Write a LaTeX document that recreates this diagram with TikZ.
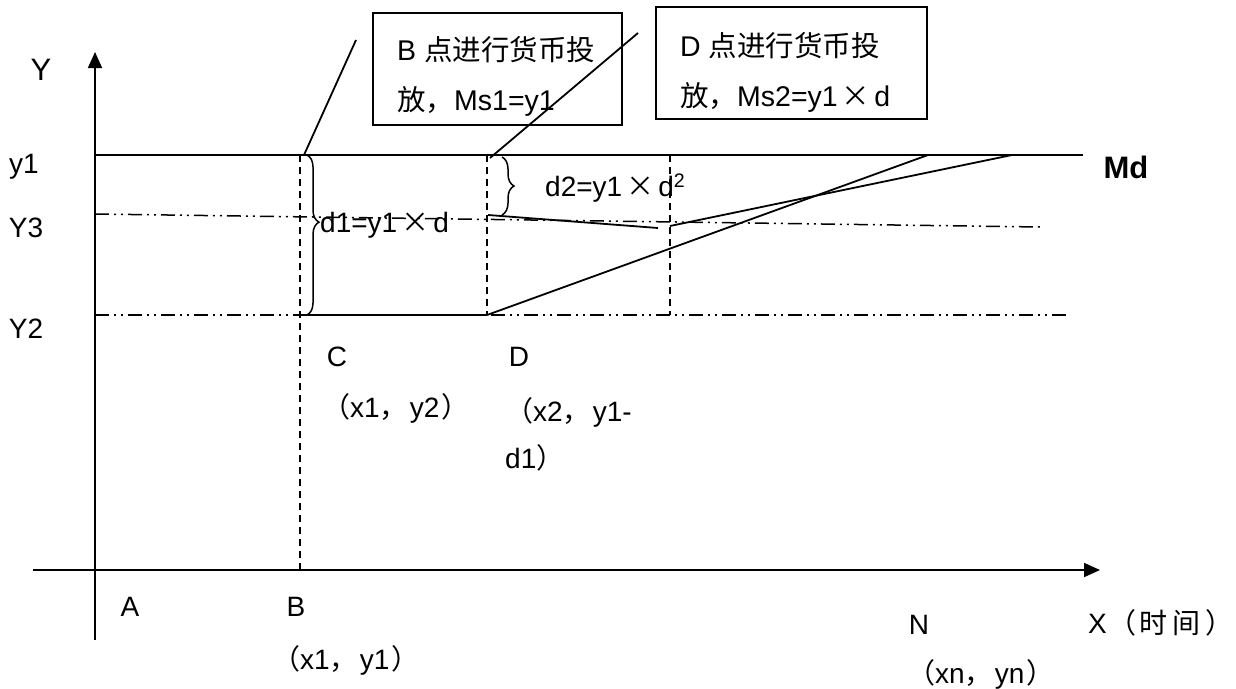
\documentclass[tikz,border=0pt]{standalone}
\usepackage{fontspec}
\setmainfont{Liberation Sans}
\newfontfamily\cjk{Noto Sans CJK SC}
\usetikzlibrary{arrows.meta,decorations.pathreplacing}
\newcommand{\cj}[1]{{\cjk #1}}
\newcommand{\tms}{\hspace{4pt}\cj{×}\hspace{4pt}}
\newcommand{\cmm}{\cj{，}\hspace{2pt}}
\begin{document}
\begin{tikzpicture}[x=1pt,y=-1pt,
 ln/.style={line width=1.8pt},
 dd/.style={line width=1.5pt, dash pattern=on 14pt off 5pt on 2pt off 5pt on 2pt off 5pt},
 vd/.style={line width=1.5pt, dash pattern=on 7pt off 5pt},
 lbl/.style={inner sep=0pt, font=\fontsize{28}{28}\selectfont},
 big/.style={inner sep=0pt, font=\fontsize{31}{31}\selectfont},
 boxtext/.style={inner sep=0pt, align=left, font=\fontsize{28.5}{50}\selectfont},
 box/.style={draw, line width=1.8pt, inner sep=0pt},
 axis/.style={line width=1.8pt, -{Triangle[length=16pt,width=14pt]}},
 brc/.style={line width=1.5pt, decorate, decoration={brace, amplitude=12pt}}
]
\useasboundingbox (0,0) rectangle (1236,688);
% key points
\coordinate (ybot) at (95,640);
\coordinate (ytop) at (95,52);
\coordinate (xl) at (33,570);
\coordinate (xr) at (1100,570);
\coordinate (y1L) at (95,155);
\coordinate (y1R) at (1083,155);
\coordinate (y3L) at (95,214);
\coordinate (y3R) at (1040,227);
\coordinate (y2L) at (95,315);
\coordinate (y2R) at (1070,315);
\coordinate (Btop) at (300,155);
\coordinate (Bbot) at (300,570);
\coordinate (C) at (300,315);
\coordinate (Dtop) at (487,155);
\coordinate (D) at (487,315);
\coordinate (Etop) at (670,155);
\coordinate (Ebot) at (670,315);
\coordinate (N1) at (928,155);
\coordinate (N2) at (1012,155);
\coordinate (s1) at (488,215);
\coordinate (s2) at (658,228);
\coordinate (s3) at (670,226);
\coordinate (cB) at (304,155);
\coordinate (cBend) at (356,40);
\coordinate (cD) at (490,158);
\coordinate (cDend) at (638,33);
\coordinate (br1a) at (307,155);
\coordinate (br1b) at (307,315);
\coordinate (br2a) at (502,157);
\coordinate (br2b) at (502,215);

% axes
\draw[axis] (ybot) -- (ytop);
\draw[axis] (xl) -- (xr);

% horizontal lines
\draw[ln] (y1L) -- (y1R);
\draw[dd] (y3L) -- (y3R);
\draw[dd] (y2L) -- (y2R);
\draw[ln] (C) -- (D);

% vertical dashed
\draw[vd] (Btop) -- (Bbot);
\draw[vd] (Dtop) -- (D);
\draw[vd] (Etop) -- (Ebot);

% sloped lines
\draw[ln] (D) -- (N1);
\draw[ln] (s1) -- (s2);
\draw[ln] (s3) -- (N2);

% braces
\draw[brc, decoration={aspect=0.42}] (br1a) -- (br1b);
\draw[brc] (br2a) -- (br2b);

% callout boxes
\node[box, minimum width=249pt, minimum height=112pt] (boxB) at (497.5,69) {};
\node[box, minimum width=271pt, minimum height=112pt] (boxD) at (791.5,63) {};
\node[boxtext, anchor=west] (tB) at (397,76) {B \cj{点进行货币投}\\\cj{放，}Ms1=y1};
\node[boxtext, anchor=west] (tD) at (680,72) {D \cj{点进行货币投}\\\cj{放，}Ms2=y1\tms d};
\draw[ln] (cB) -- (cBend);
\draw[ln] (cD) -- (cDend);

% axis labels
\node[big] (lY) at (41,70) {Y};
\node[lbl] (ly1) at (24,167) {y1};
\node[lbl] (lY3) at (26,228) {Y3};
\node[lbl] (lY2) at (26,329) {Y2};
\node[big, font=\fontsize{31}{31}\selectfont\bfseries] (lMd) at (1126,167) {Md};

% brace labels
\node[lbl, anchor=west] (ld1) at (320,225) {d1=y1\tms d};
\node[lbl, anchor=west] (ld2) at (545,188) {d2=y1\tms d\textsuperscript{2}};

% point labels
\node[lbl] (lC) at (337,357) {C};
\node[lbl, anchor=west] (lCc) at (322,408) {\cj{（}x1\cmm y2\hspace{2pt}\cj{）}};
\node[lbl] (lD) at (519,357) {D};
\node[lbl, anchor=north west, align=left, font=\fontsize{28}{47}\selectfont] (lDc) at (505,397) {\cj{（}x2\cmm y1-\\d1\cj{）}};
\node[lbl] (lA) at (130,607) {A};
\node[lbl] (lB) at (296,607) {B};
\node[lbl, anchor=west] (lBc) at (272,660) {\cj{（}x1\cmm y1\hspace{2pt}\cj{）}};
\node[lbl] (lN) at (919,625) {N};
\node[lbl, anchor=west] (lNc) at (907,674) {\cj{（}xn\cmm yn\hspace{2pt}\cj{）}};
\node[lbl, anchor=west] (lX) at (1088,623) {X\hspace{2pt}\cj{（}\hspace{3pt}\cj{时}\hspace{5pt}\cj{间}\hspace{5pt}\cj{）}};
\end{tikzpicture}
\end{document}
